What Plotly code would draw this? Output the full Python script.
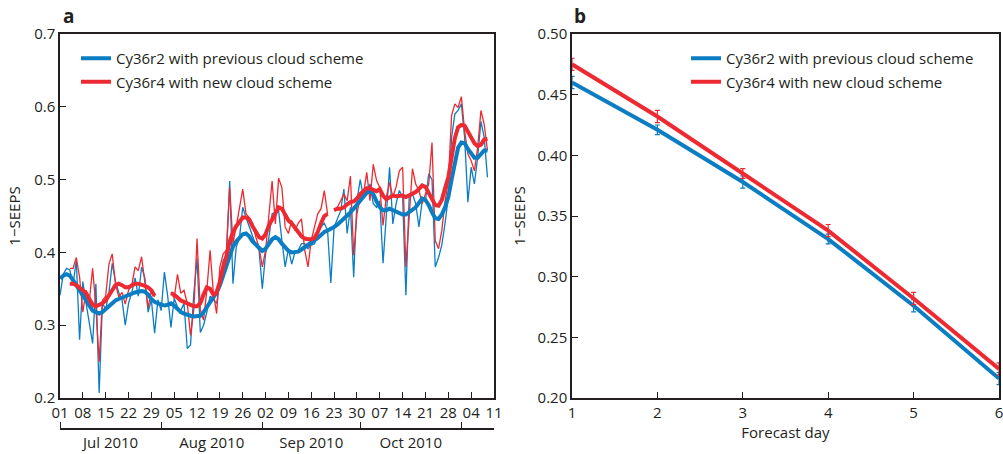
import pandas as pd
import plotly.graph_objects as go

# ---------------- data: panel a (daily 1-SEEPS, 1 Jul 2010 onwards) ----------------
start_date = "2010-07-01"

blue_daily = [
    0.341, 0.370, 0.378, 0.376, 0.356, 0.389, 0.280, 0.360, 0.330, 0.305,
    0.275, 0.357, 0.207, 0.330, 0.322, 0.345, 0.385, 0.360, 0.345, 0.335,
    0.300, 0.330, 0.345, 0.365, 0.340, 0.380, 0.365, 0.318, 0.335, 0.289,
    0.335, 0.320, 0.373, 0.340, 0.297, 0.337, 0.325, 0.320, 0.330, 0.268,
    0.273, 0.343, 0.392, 0.290, 0.300, 0.318, 0.340, 0.335, 0.330, 0.360,
    0.389, 0.394, 0.498, 0.357, 0.407, 0.420, 0.462, 0.448, 0.435, 0.421,
    0.410, 0.403, 0.350, 0.398, 0.420, 0.453, 0.455, 0.457, 0.416, 0.380,
    0.405, 0.384, 0.400, 0.403, 0.412, 0.412, 0.405, 0.410, 0.412, 0.426,
    0.435, 0.440, 0.430, 0.358, 0.435, 0.445, 0.457, 0.487, 0.426, 0.462,
    0.366, 0.471, 0.500, 0.476, 0.480, 0.494, 0.467, 0.462, 0.471, 0.385,
    0.457, 0.517, 0.439, 0.467, 0.485, 0.476, 0.341, 0.476, 0.480, 0.467,
    0.435, 0.471, 0.471, 0.508, 0.500, 0.380, 0.393, 0.410, 0.440, 0.476,
    0.558, 0.590, 0.595, 0.604, 0.558, 0.469, 0.517, 0.494, 0.531, 0.580,
    0.558, 0.503,
]

red_daily = [
    None, None, None, 0.378, 0.378, 0.393, 0.366, 0.318, 0.348, 0.334,
    0.378, 0.325, 0.250, 0.334, 0.340, 0.384, 0.398, 0.357, 0.339, 0.345,
    0.329, 0.348, 0.355, 0.380, 0.375, 0.394, 0.360, 0.324, 0.348, 0.339,
    None, None, None, None, 0.345, 0.337, 0.370, 0.344, 0.348, 0.330,
    0.286, 0.321, 0.419, 0.321, 0.307, 0.348, 0.403, 0.344, 0.316, 0.380,
    0.398, 0.403, 0.489, 0.412, 0.435, 0.460, 0.487, 0.453, 0.448, 0.440,
    0.421, 0.407, 0.380, 0.403, 0.450, 0.498, 0.439, 0.502, 0.489, 0.435,
    0.426, 0.444, 0.430, 0.440, 0.446, 0.403, 0.380, 0.417, 0.435, 0.453,
    0.460, 0.485, 0.453, None, 0.457, 0.462, 0.471, 0.480, 0.471, 0.505,
    0.396, 0.453, 0.476, 0.480, 0.510, 0.471, 0.521, 0.499, 0.489, 0.437,
    0.476, 0.496, 0.476, 0.490, 0.512, 0.517, 0.380, 0.450, 0.515, 0.494,
    0.485, 0.467, 0.480, 0.494, 0.551, 0.416, 0.405, 0.430, 0.470, 0.498,
    0.588, 0.604, 0.599, 0.614, 0.567, 0.535, 0.526, 0.512, 0.544, 0.595,
    0.576, 0.540,
]

blue_smooth = [
    0.364, 0.368, 0.370, 0.368, 0.362, 0.355, 0.348, 0.340, 0.333, 0.326,
    0.320, 0.318, 0.316, 0.318, 0.322, 0.326, 0.330, 0.334, 0.336, 0.338,
    0.340, 0.342, 0.344, 0.345, 0.346, 0.347, 0.346, 0.342, 0.336, 0.332,
    0.330, 0.328, 0.327, 0.328, 0.330, 0.327, 0.322, 0.318, 0.316, 0.314,
    0.313, 0.312, 0.312, 0.313, 0.318, 0.325, 0.332, 0.338, 0.345, 0.355,
    0.368, 0.382, 0.398, 0.408, 0.415, 0.420, 0.425, 0.426, 0.422, 0.415,
    0.410, 0.405, 0.402, 0.405, 0.412, 0.418, 0.421, 0.418, 0.412, 0.406,
    0.402, 0.400, 0.400, 0.401, 0.404, 0.407, 0.410, 0.413, 0.416, 0.420,
    0.424, 0.428, 0.430, 0.432, 0.435, 0.438, 0.442, 0.447, 0.450, 0.455,
    0.460, 0.466, 0.472, 0.478, 0.482, 0.485, 0.480, 0.470, 0.462, 0.458,
    0.458, 0.460, 0.458, 0.455, 0.453, 0.452, 0.452, 0.455, 0.458, 0.462,
    0.468, 0.474, 0.472, 0.465, 0.455, 0.447, 0.446, 0.452, 0.462, 0.476,
    0.500, 0.525, 0.544, 0.551, 0.550, 0.542, 0.535, 0.530, 0.530, 0.535,
    0.540, 0.540,
]

red_smooth = [
    None, None, None, 0.357, 0.357, 0.355, 0.352, 0.348, 0.344, 0.335,
    0.328, 0.326, 0.328, 0.330, 0.334, 0.340, 0.348, 0.355, 0.357, 0.355,
    0.352, 0.352, 0.354, 0.357, 0.357, 0.356, 0.354, 0.352, 0.348, 0.340,
    None, None, None, None, 0.344, 0.342, 0.338, 0.334, 0.332, 0.330,
    0.328, 0.326, 0.326, 0.330, 0.342, 0.352, 0.350, 0.342, 0.345, 0.360,
    0.380, 0.395, 0.415, 0.428, 0.436, 0.442, 0.448, 0.448, 0.445, 0.436,
    0.428, 0.421, 0.419, 0.425, 0.437, 0.446, 0.455, 0.462, 0.460, 0.452,
    0.444, 0.440, 0.435, 0.428, 0.422, 0.419, 0.418, 0.418, 0.420, 0.428,
    0.440, 0.450, 0.453, None, 0.458, 0.460, 0.460, 0.462, 0.466, 0.469,
    0.470, 0.474, 0.480, 0.485, 0.488, 0.488, 0.486, 0.484, 0.487, 0.478,
    0.473, 0.476, 0.478, 0.477, 0.477, 0.478, 0.476, 0.478, 0.480, 0.483,
    0.487, 0.492, 0.490, 0.482, 0.472, 0.465, 0.464, 0.472, 0.488, 0.503,
    0.530, 0.557, 0.572, 0.575, 0.574, 0.565, 0.557, 0.550, 0.546, 0.548,
    0.555, 0.556,
]

# ---------------- data: panel b ----------------
forecast_day = [1, 2, 3, 4, 5, 6]
blue_fc = [0.460, 0.421, 0.378, 0.331, 0.276, 0.216]
red_fc = [0.475, 0.432, 0.385, 0.338, 0.282, 0.224]
blue_err = [0.005, 0.004, 0.005, 0.004, 0.005, 0.005]
red_err = [0.005, 0.005, 0.004, 0.005, 0.005, 0.005]

name_blue = "Cy36r2 with previous cloud scheme"
name_red = "Cy36r4 with new cloud scheme"

# ---------------- style ----------------
BLUE = "#0b7dc3"
RED = "#ed2a31"
INK = "#231f20"
FONT = "Open Sans"
FS = 15

dates = pd.date_range(start_date, periods=len(blue_daily), freq="D")

W, H = 1003, 454
def px_x(p):
    return p / W
def px_y(p):
    return 1 - p / H

fig = go.Figure()

# panel a thin lines
fig.add_trace(go.Scatter(x=dates, y=blue_daily, mode="lines", line=dict(color=BLUE, width=1.3),
                         showlegend=False, xaxis="x", yaxis="y", connectgaps=False))
fig.add_trace(go.Scatter(x=dates, y=red_daily, mode="lines", line=dict(color=RED, width=1.3),
                         showlegend=False, xaxis="x", yaxis="y", connectgaps=False))
# panel a thick smoothed lines
fig.add_trace(go.Scatter(x=dates, y=blue_smooth, mode="lines", line=dict(color=BLUE, width=4),
                         name=name_blue, legend="legend", legendgroup="ab", legendrank=1,
                         xaxis="x", yaxis="y", connectgaps=False))
fig.add_trace(go.Scatter(x=dates, y=red_smooth, mode="lines", line=dict(color=RED, width=4),
                         name=name_red, legend="legend", legendgroup="ar", legendrank=2,
                         xaxis="x", yaxis="y", connectgaps=False))
# invisible trace to carry the month axis
fig.add_trace(go.Scatter(x=dates, y=blue_daily, mode="lines", line=dict(color="rgba(0,0,0,0)", width=0),
                         showlegend=False, hoverinfo="skip", xaxis="x3", yaxis="y"))

# panel b
fig.add_trace(go.Scatter(x=forecast_day, y=blue_fc, mode="lines", line=dict(color=BLUE, width=4),
                         error_y=dict(type="data", array=blue_err, color=BLUE, thickness=1.2, width=2.5),
                         name=name_blue, legend="legend2", legendgroup="bb", legendrank=1,
                         xaxis="x2", yaxis="y2"))
fig.add_trace(go.Scatter(x=forecast_day, y=red_fc, mode="lines", line=dict(color=RED, width=4),
                         error_y=dict(type="data", array=red_err, color=RED, thickness=1.2, width=2.5),
                         name=name_red, legend="legend2", legendgroup="br", legendrank=2,
                         xaxis="x2", yaxis="y2"))

ydom = [px_y(398), px_y(34)]
axis_common = dict(showline=True, linecolor=INK, linewidth=1.5, mirror=True, ticks="inside",
                   ticklen=6, tickwidth=1.3, tickcolor=INK, showgrid=False, zeroline=False,
                   tickfont=dict(family=FONT, size=FS, color=INK), automargin=False,
                   ticklabeloverflow="allow")

fig.update_layout(
    width=W, height=H,
    margin=dict(l=0, r=0, t=0, b=0),
    paper_bgcolor="white", plot_bgcolor="white",
    font=dict(family=FONT, size=FS, color=INK),
    xaxis=dict(domain=[px_x(60), px_x(494)], anchor="y",
               range=["2010-07-01", "2010-11-11"], tick0="2010-07-01", dtick=7 * 86400000,
               tickformat="%d", **axis_common),
    xaxis3=dict(overlaying="x", anchor="free", position=px_y(429), side="bottom",
                range=["2010-07-01", "2010-11-11"], dtick="M1", tick0="2010-07-01",
                tickformat="%b %Y", ticklabelmode="period",
                showline=True, linecolor=INK, linewidth=1.5, ticks="inside", ticklen=6,
                tickwidth=1.3, tickcolor=INK, showgrid=False, zeroline=False,
                tickfont=dict(family=FONT, size=FS, color=INK), automargin=False),
    yaxis=dict(domain=ydom, anchor="x", range=[0.2, 0.7], dtick=0.1, tickformat=".1f",
               title=dict(text="1−SEEPS", font=dict(family=FONT, size=FS, color=INK), standoff=10),
               **axis_common),
    xaxis2=dict(domain=[px_x(572), px_x(999)], anchor="y2", range=[1, 6], dtick=1,
                title=dict(text="Forecast day", font=dict(family=FONT, size=FS, color=INK), standoff=6),
                **axis_common),
    yaxis2=dict(domain=ydom, anchor="x2", range=[0.2, 0.5], dtick=0.05, tickformat=".2f",
                title=dict(text="1−SEEPS", font=dict(family=FONT, size=FS, color=INK), standoff=8),
                **axis_common),
    legend=dict(x=px_x(76), y=px_y(42), xanchor="left", yanchor="top", bgcolor="rgba(0,0,0,0)",
                font=dict(family=FONT, size=FS, color=INK), traceorder="grouped", tracegroupgap=1),
    legend2=dict(x=px_x(686), y=px_y(42), xanchor="left", yanchor="top", bgcolor="rgba(0,0,0,0)",
                 font=dict(family=FONT, size=FS, color=INK), traceorder="grouped", tracegroupgap=1),
    annotations=[
        dict(text="<b>a</b>", x=px_x(61), y=px_y(16), xref="paper", yref="paper",
             xanchor="left", yanchor="middle", showarrow=False,
             font=dict(family=FONT, size=19, color=INK)),
        dict(text="<b>b</b>", x=px_x(572), y=px_y(16), xref="paper", yref="paper",
             xanchor="left", yanchor="middle", showarrow=False,
             font=dict(family=FONT, size=19, color=INK)),
    ],
)

fig.write_html("out.html", config={"displayModeBar": False},
               post_script="document.body.style.margin='0px';document.body.style.overflow='hidden';")
